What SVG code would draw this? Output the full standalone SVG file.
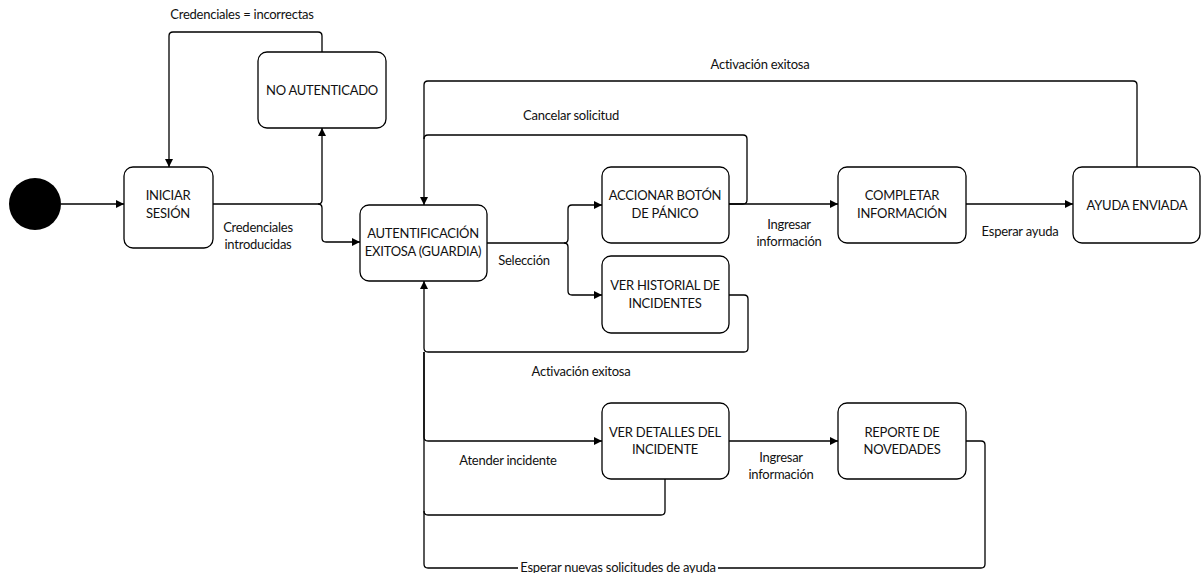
<svg xmlns="http://www.w3.org/2000/svg" width="1201" height="573" viewBox="0 0 1201 573">
  <defs>
    <marker id="arrow" viewBox="0 0 10 10" refX="10" refY="5" markerWidth="8" markerHeight="8" markerUnits="userSpaceOnUse" orient="auto">
      <path d="M0,0 L10,5 L0,10 Z" fill="#000"/>
    </marker>
    <style>
      .state { fill: #fff; stroke: #000; stroke-width: 1.3; }
      .edge { fill: none; stroke: #000; stroke-width: 1.3; }
      .arr { marker-end: url(#arrow); }
      text { font-family: Lato, "Open Sans", sans-serif; font-size: 13px; letter-spacing: -0.25px; fill: #111; text-anchor: middle; }
    </style>
  </defs>
  <rect width="1201" height="573" fill="#fff"/>

  <!-- transitions -->
  <g id="connectors">
    <path class="edge arr" d="M61,204 H124"/>
    <path class="edge arr" d="M213,204 H318 Q322,204 322,200 V128"/>
    <path class="edge arr" d="M318,204 Q322,204 322,208 V238 Q322,242 326,242 H360"/>
    <path class="edge arr" d="M322,52 V36 Q322,32 318,32 H173 Q169,32 169,36 V167"/>
    <path class="edge arr" d="M487,243 H564 Q568,243 568,239 V209 Q568,205 572,205 H602"/>
    <path class="edge arr" d="M564,243 Q568,243 568,247 V291 Q568,295 572,295 H602"/>
    <path class="edge arr" d="M729,204 H743 Q747,204 747,200 V139 Q747,135 743,135 H428 Q424,135 424,139 V205"/>
    <path class="edge arr" d="M729,204 H838"/>
    <path class="edge arr" d="M966,204 H1073"/>
    <path class="edge" d="M1137,167 V85 Q1137,81 1133,81 H428 Q424,81 424,85 V139"/>
    <path class="edge arr" d="M729,295 H744 Q748,295 748,299 V348 Q748,352 744,352 H428 Q424,352 424,348 V281"/>
    <path class="edge arr" d="M424,352 V437 Q424,441 428,441 H602"/>
    <path class="edge arr" d="M729,441 H838"/>
    <path class="edge" d="M665,479 V511 Q665,515 661,515 H428 Q424,515 424,511 V352"/>
    <path class="edge" d="M966,441 H981 Q985,441 985,445 V564 Q985,568 981,568 H428 Q424,568 424,564 V511"/>
  </g>

  <!-- transition labels -->
  <g id="labels">
    <text x="242" y="19">Credenciales = incorrectas</text>
    <text x="258" y="232">Credenciales</text>
    <text x="258" y="249">introducidas</text>
    <text x="524" y="265">Selección</text>
    <text x="571" y="120">Cancelar solicitud</text>
    <text x="760" y="69">Activación exitosa</text>
    <text x="581" y="376">Activación exitosa</text>
    <text x="789" y="229">Ingresar</text>
    <text x="789" y="246">información</text>
    <text x="1020" y="236">Esperar ayuda</text>
    <text x="508" y="465">Atender incidente</text>
    <text x="781" y="462">Ingresar</text>
    <text x="781" y="479">información</text>
    <rect x="518" y="561" width="200" height="12" fill="#fff"/>
    <text x="618" y="572">Esperar nuevas solicitudes de ayuda</text>
  </g>

  <!-- states -->
  <g id="start">
    <circle cx="35" cy="204" r="26" fill="#000"/>
  </g>
  <g id="iniciar-sesion">
    <rect class="state" x="124" y="167" width="89" height="81" rx="9"/>
    <text x="168" y="200">INICIAR</text>
    <text x="168" y="218">SESIÓN</text>
  </g>
  <g id="no-autenticado">
    <rect class="state" x="258" y="52" width="128" height="76" rx="9"/>
    <text x="322" y="95">NO AUTENTICADO</text>
  </g>
  <g id="autentificacion">
    <rect class="state" x="360" y="205" width="127" height="76" rx="9"/>
    <text x="423" y="238">AUTENTIFICACIÓN</text>
    <text x="423" y="256">EXITOSA (GUARDIA)</text>
  </g>
  <g id="accionar-boton">
    <rect class="state" x="602" y="167" width="127" height="76" rx="9"/>
    <text x="665" y="200">ACCIONAR BOTÓN</text>
    <text x="665" y="218">DE PÁNICO</text>
  </g>
  <g id="ver-historial">
    <rect class="state" x="602" y="256" width="127" height="77" rx="9"/>
    <text x="665" y="290">VER HISTORIAL DE</text>
    <text x="665" y="308">INCIDENTES</text>
  </g>
  <g id="completar-informacion">
    <rect class="state" x="838" y="167" width="128" height="76" rx="9"/>
    <text x="902" y="200">COMPLETAR</text>
    <text x="902" y="218">INFORMACIÓN</text>
  </g>
  <g id="ayuda-enviada">
    <rect class="state" x="1073" y="167" width="127" height="76" rx="9"/>
    <text x="1137" y="210">AYUDA ENVIADA</text>
  </g>
  <g id="ver-detalles">
    <rect class="state" x="602" y="403" width="127" height="76" rx="9"/>
    <text x="665" y="437">VER DETALLES DEL</text>
    <text x="665" y="454">INCIDENTE</text>
  </g>
  <g id="reporte-novedades">
    <rect class="state" x="838" y="403" width="128" height="76" rx="9"/>
    <text x="902" y="437">REPORTE DE</text>
    <text x="902" y="454">NOVEDADES</text>
  </g>
</svg>
